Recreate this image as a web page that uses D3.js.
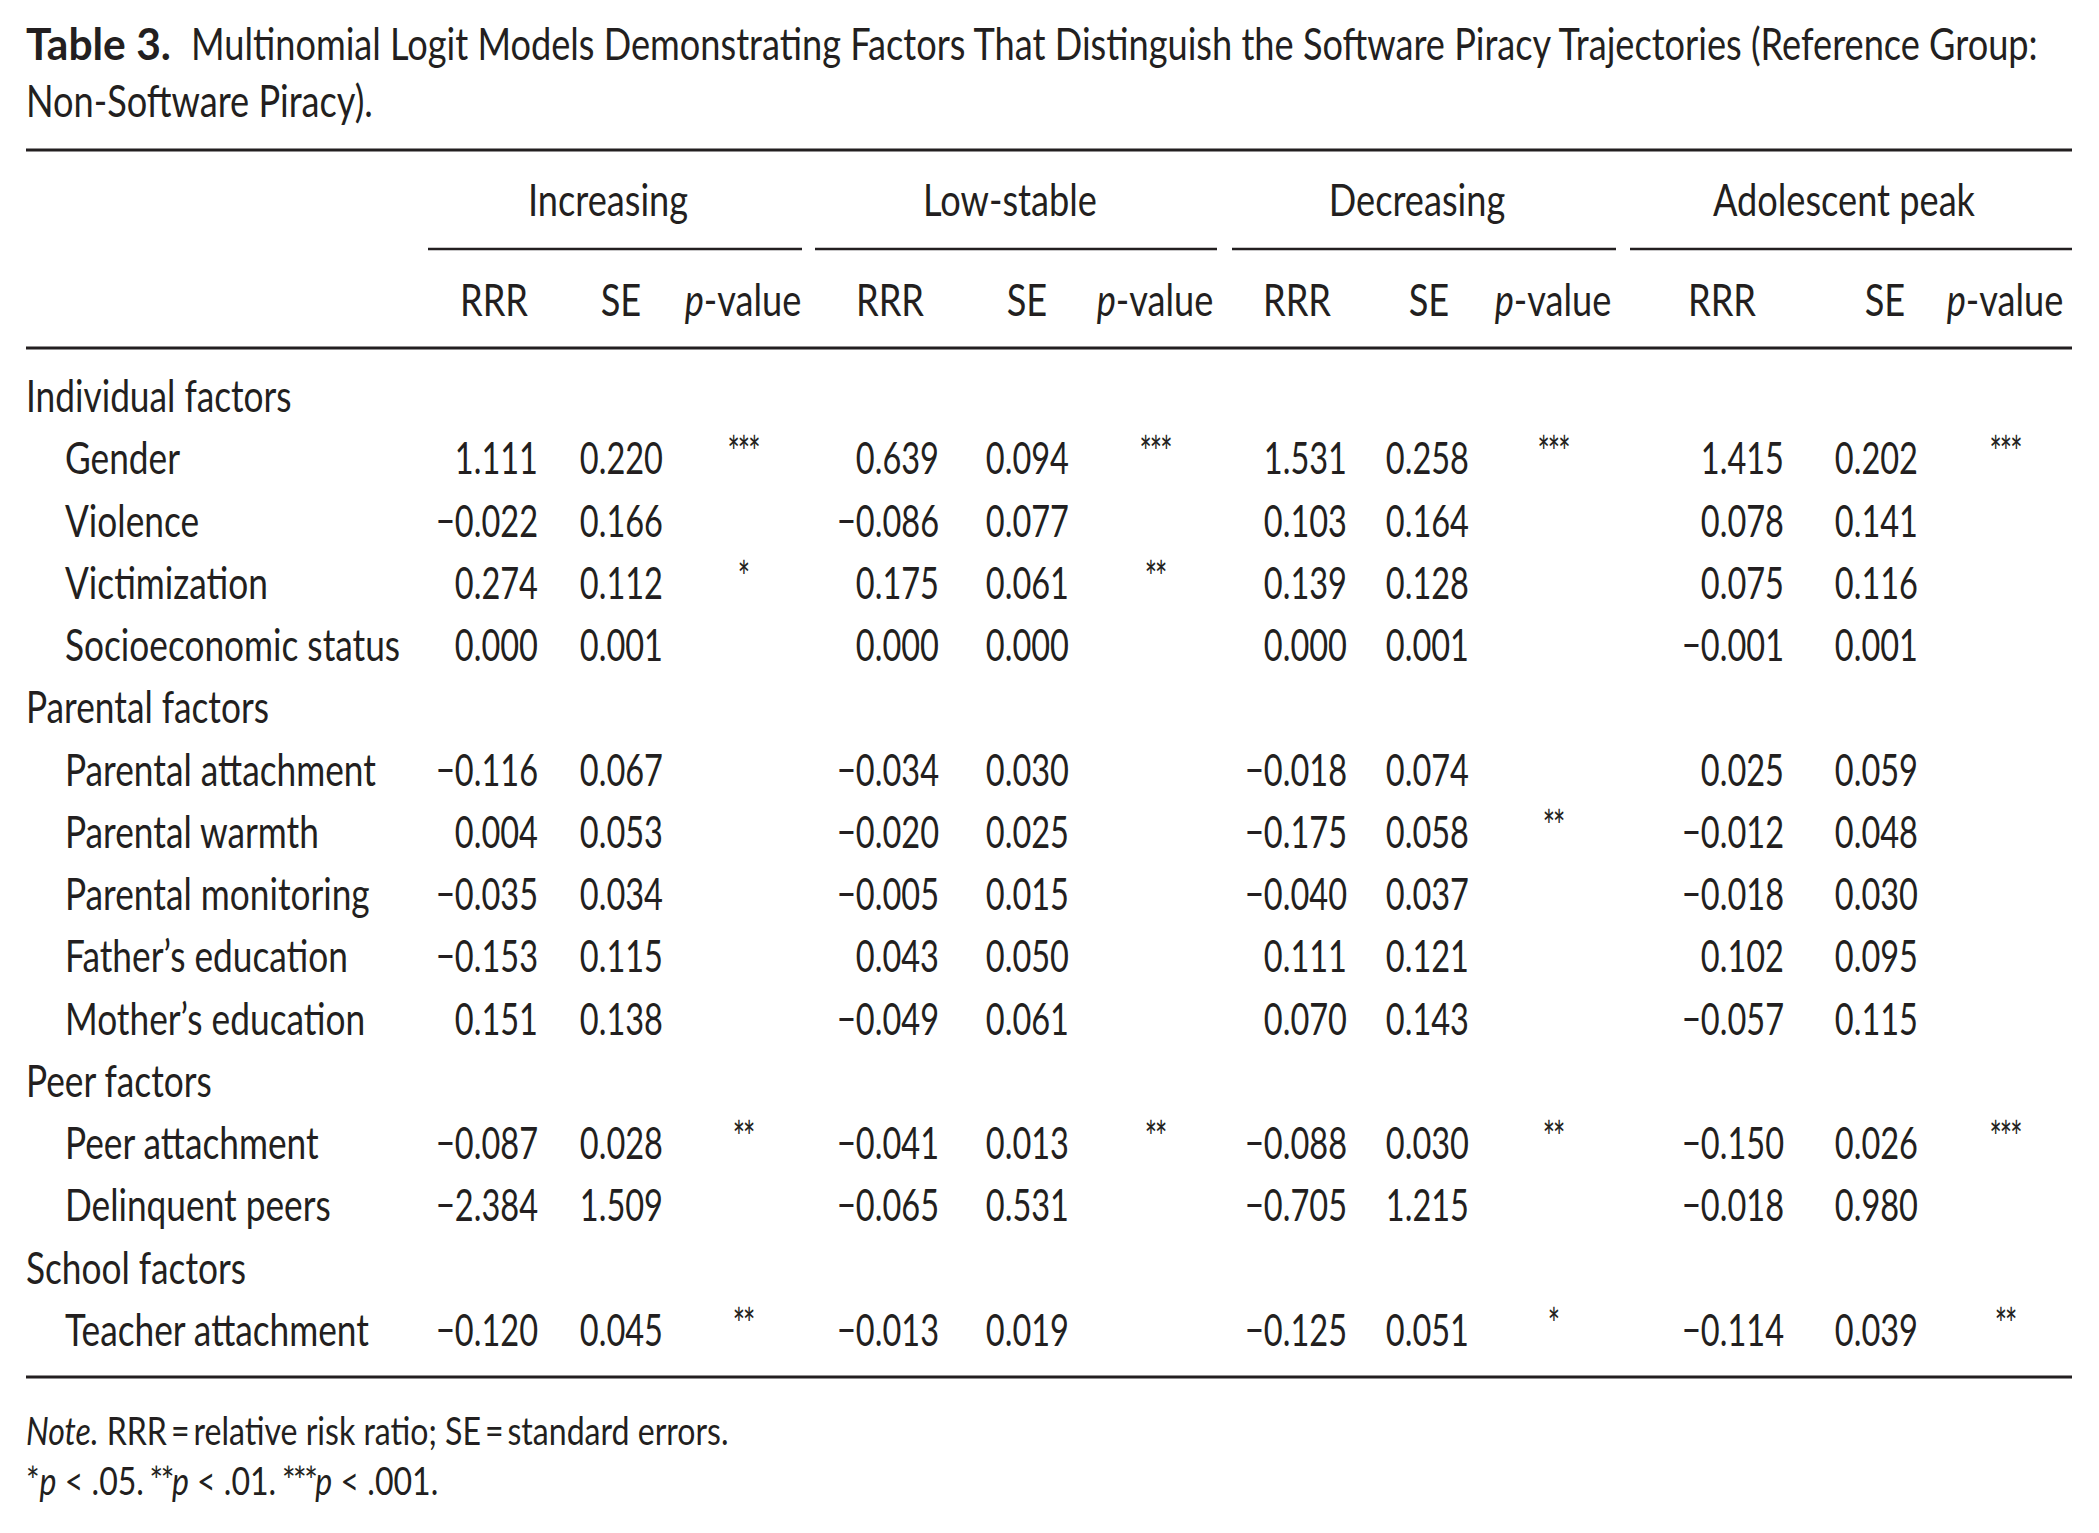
<!DOCTYPE html>
<html>
<head>
<meta charset="utf-8">
<script src="https://cdn.jsdelivr.net/npm/d3@7"></script>
<style>
  body { margin: 0; background: #fff; }
  text { font-family: Lato, "Open Sans", sans-serif; fill: #231f20; }
</style>
</head>
<body>
<div id="chart"></div>
<script>
// DATA
// ----------------------------------------------------------------------
const titleLead = "Table 3."
const titleLine1 = "Multinomial Logit Models Demonstrating Factors That Distinguish the Software Piracy Trajectories (Reference Group:"
const titleLine2 = "Non-Software Piracy)."

const groups = ["Increasing", "Low-stable", "Decreasing", "Adolescent peak"]

// section rows have kind "section", others "item"
const rowLabels = [
    "Individual factors", "Gender", "Violence", "Victimization", "Socioeconomic status",
    "Parental factors", "Parental attachment", "Parental warmth", "Parental monitoring",
    "Father\u2019s education", "Mother\u2019s education",
    "Peer factors", "Peer attachment", "Delinquent peers",
    "School factors", "Teacher attachment"
]
const rowKinds = [
    "section", "item", "item", "item", "item",
    "section", "item", "item", "item", "item", "item",
    "section", "item", "item",
    "section", "item"
]

const increasingRRR = [null, 1.111, -0.022, 0.274, 0.000, null, -0.116, 0.004, -0.035, -0.153, 0.151, null, -0.087, -2.384, null, -0.120]
const increasingSE  = [null, 0.220, 0.166, 0.112, 0.001, null, 0.067, 0.053, 0.034, 0.115, 0.138, null, 0.028, 1.509, null, 0.045]
const increasingP   = ["", "***", "", "*", "", "", "", "", "", "", "", "", "**", "", "", "**"]

const lowStableRRR = [null, 0.639, -0.086, 0.175, 0.000, null, -0.034, -0.020, -0.005, 0.043, -0.049, null, -0.041, -0.065, null, -0.013]
const lowStableSE  = [null, 0.094, 0.077, 0.061, 0.000, null, 0.030, 0.025, 0.015, 0.050, 0.061, null, 0.013, 0.531, null, 0.019]
const lowStableP   = ["", "***", "", "**", "", "", "", "", "", "", "", "", "**", "", "", ""]

const decreasingRRR = [null, 1.531, 0.103, 0.139, 0.000, null, -0.018, -0.175, -0.040, 0.111, 0.070, null, -0.088, -0.705, null, -0.125]
const decreasingSE  = [null, 0.258, 0.164, 0.128, 0.001, null, 0.074, 0.058, 0.037, 0.121, 0.143, null, 0.030, 1.215, null, 0.051]
const decreasingP   = ["", "***", "", "", "", "", "", "**", "", "", "", "", "**", "", "", "*"]

const adolescentRRR = [null, 1.415, 0.078, 0.075, -0.001, null, 0.025, -0.012, -0.018, 0.102, -0.057, null, -0.150, -0.018, null, -0.114]
const adolescentSE  = [null, 0.202, 0.141, 0.116, 0.001, null, 0.059, 0.048, 0.030, 0.095, 0.115, null, 0.026, 0.980, null, 0.039]
const adolescentP   = ["", "***", "", "", "", "", "", "", "", "", "", "", "***", "", "", "**"]

const groupRRR = [increasingRRR, lowStableRRR, decreasingRRR, adolescentRRR]
const groupSE = [increasingSE, lowStableSE, decreasingSE, adolescentSE]
const groupP = [increasingP, lowStableP, decreasingP, adolescentP]

// LAYOUT
// ----------------------------------------------------------------------
const width = 2099
const height = 1533
const left = 26
const right = 2072
const indent = 65
const fontSize = 44
const noteSize = 39
const starSize = 44
const ink = "#231f20"

// column anchors for each group
const groupCenter = [608, 1010, 1417, 1844]
const groupRule = [[428, 802], [815, 1217], [1232, 1616], [1630, 2072]]
const rrrHead = [494, 890, 1297, 1722]
const seHead = [621, 1027, 1429, 1885]
const rrrRight = [538, 939, 1347, 1784]
const seRight = [663, 1069, 1469, 1918]
const pCenter = [743, 1155, 1553, 2005]

const fmt = d3.format(".3f")

// create svg
function createSvg() {
    const svg = d3.select("#chart").append("svg")
        .attr("width", width)
        .attr("height", height)
    svg.append("rect")
        .attr("width", width)
        .attr("height", height)
        .attr("fill", "#fff")
    return svg
};

// horizontal squeeze so the text width fits the narrow face of the original
function measureSqueeze(svg, str, target, weight) {
    const probe = svg.append("text")
        .style("font-size", `${fontSize}px`)
        .style("font-weight", weight)
        .text(str)
    const w = probe.node().getComputedTextLength()
    probe.remove()
    return target / w
};

function addText(parent, x, y, anchor, size, sx) {
    return parent.append("text")
        .attr("transform", `translate(${x}, ${y}) scale(${sx}, 1)`)
        .attr("text-anchor", anchor)
        .style("font-size", `${size}px`)
};

function rule(parent, x1, x2, y, w) {
    parent.append("line")
        .attr("x1", x1)
        .attr("x2", x2)
        .attr("y1", y)
        .attr("y2", y)
        .attr("stroke", ink)
        .attr("stroke-width", w)
};

// CREATE TABLE
// ----------------------------------------------------------------------
function createTable() {
    const svg = createSvg()
    const sx = measureSqueeze(svg, titleLine1, 2038 - 191, "normal")
    const sxBold = measureSqueeze(svg, titleLead, 171 - left, "bold")
    const labelSx = sx * 0.975
    const numSx = sx * 0.9

    // title
    addText(svg, left, 60, "start", fontSize, sxBold)
        .style("font-weight", "bold")
        .text(titleLead)
    addText(svg, 191, 60, "start", fontSize, sx).text(titleLine1)
    addText(svg, left, 117, "start", fontSize, sx).text(titleLine2)

    // rules
    rule(svg, left, right, 150, 3)
    rule(svg, left, right, 348, 3)
    rule(svg, left, right, 1377, 3)
    groupRule.forEach(r => rule(svg, r[0], r[1], 249, 2.5))

    // group headers
    groups.forEach((g, i) => {
        addText(svg, groupCenter[i], 216, "middle", fontSize, sx).text(g)
        addText(svg, rrrHead[i], 316, "middle", fontSize, sx).text("RRR")
        addText(svg, seHead[i], 316, "middle", fontSize, sx).text("SE")
        const p = addText(svg, pCenter[i], 316, "middle", fontSize, sx)
        p.append("tspan").style("font-style", "italic").text("p")
        p.append("tspan").text("-value")
    })

    // row scale
    const y = d3.scaleLinear()
        .domain([0, rowLabels.length - 1])
        .range([412, 1346])

    // row labels
    const body = svg.append("g")
    rowLabels.forEach((label, i) => {
        const x = rowKinds[i] === "section" ? left : indent
        addText(body, x, y(i), "start", fontSize, labelSx).text(label)
    })

    // values
    groups.forEach((g, gi) => {
        groupRRR[gi].forEach((v, i) => {
            if (v === null) return
            addText(body, rrrRight[gi], y(i), "end", fontSize, numSx).text(fmt(v))
            addText(body, seRight[gi], y(i), "end", fontSize, numSx).text(fmt(groupSE[gi][i]))
            if (groupP[gi][i]) {
                addText(body, pCenter[gi], y(i) - 6, "middle", starSize, sx * 0.8)
                    .style("letter-spacing", "-3px")
                    .text(groupP[gi][i])
            }
        })
    })

    // notes
    const n1 = addText(svg, left, 1445, "start", noteSize, sx)
    n1.append("tspan").style("font-style", "italic").text("Note.")
    n1.append("tspan").text(" RRR\u2009=\u2009relative risk ratio; SE\u2009=\u2009standard errors.")

    const n2 = addText(svg, left, 1495, "start", noteSize, sx)
    const sig = [["*", ".05."], ["**", ".01."], ["***", ".001."]]
    sig.forEach((s, i) => {
        n2.append("tspan")
            .style("letter-spacing", i === 0 ? null : "-3px")
            .text((i === 0 ? "" : " ") + s[0])
        n2.append("tspan")
            .style("font-style", "italic")
            .style("letter-spacing", null)
            .text("p")
        n2.append("tspan").text(` < ${s[1]}`)
    })
};

createTable()
</script>
</body>
</html>
